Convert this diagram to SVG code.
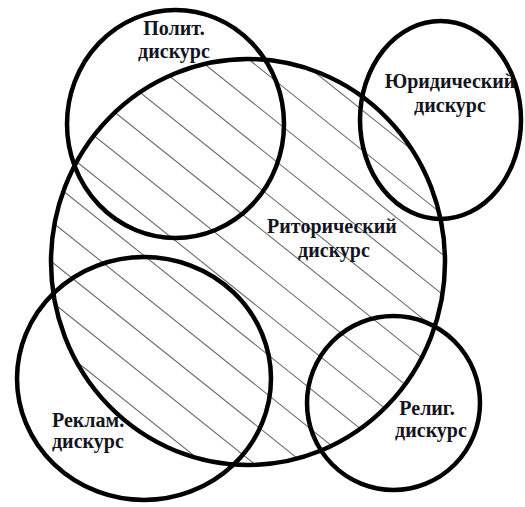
<svg xmlns="http://www.w3.org/2000/svg" width="525" height="507" viewBox="0 0 525 507">
  <style>
    .ring { fill: none; stroke: #000; stroke-width: 4.5; }
    .hatch line { stroke: #6a6a6a; stroke-width: 1.1; }
    .lbl { font-family: "Liberation Serif", "Times New Roman", serif; font-weight: bold; font-size: 20px; fill: #14141e; }
    .c { text-anchor: middle; }
  </style>
  <defs>
    <clipPath id="bigClip">
      <ellipse cx="248" cy="262" rx="197" ry="203"/>
    </clipPath>
  </defs>
  <rect width="525" height="507" fill="#fff"/>
  <g class="hatch" clip-path="url(#bigClip)">
    <line x1="-325.5" y1="40" x2="237" y2="490"/>
    <line x1="-275.5" y1="40" x2="287" y2="490"/>
    <line x1="-225.5" y1="40" x2="337" y2="490"/>
    <line x1="-175.5" y1="40" x2="387" y2="490"/>
    <line x1="-125.5" y1="40" x2="437" y2="490"/>
    <line x1="-75.5" y1="40" x2="487" y2="490"/>
    <line x1="-25.5" y1="40" x2="537" y2="490"/>
    <line x1="24.5" y1="40" x2="587" y2="490"/>
    <line x1="74.5" y1="40" x2="637" y2="490"/>
    <line x1="124.5" y1="40" x2="687" y2="490"/>
    <line x1="174.5" y1="40" x2="737" y2="490"/>
    <line x1="224.5" y1="40" x2="787" y2="490"/>
    <line x1="274.5" y1="40" x2="837" y2="490"/>
  </g>
  <g id="connectors"/>
  <g id="ritor">
    <ellipse class="ring" cx="248" cy="262" rx="197" ry="203"/>
    <text class="lbl c" x="332" y="233">Риторический</text>
    <text class="lbl c" x="334" y="257">дискурс</text>
  </g>
  <g id="polit">
    <ellipse class="ring" cx="175.5" cy="124" rx="108.5" ry="114"/>
    <text class="lbl c" x="174" y="35">Полит.</text>
    <text class="lbl c" x="174" y="58">дискурс</text>
  </g>
  <g id="yurid">
    <ellipse class="ring" cx="440.5" cy="120" rx="80.5" ry="99"/>
    <text class="lbl c" x="450" y="88">Юридический</text>
    <text class="lbl c" x="450" y="112">дискурс</text>
  </g>
  <g id="reklam">
    <ellipse class="ring" cx="144" cy="378.5" rx="127" ry="121.5"/>
    <text class="lbl" x="52" y="427">Реклам.</text>
    <text class="lbl" x="52" y="448">дискурс</text>
  </g>
  <g id="relig">
    <ellipse class="ring" cx="393.5" cy="403" rx="86.5" ry="87"/>
    <text class="lbl c" x="427" y="415">Религ.</text>
    <text class="lbl c" x="431" y="437">дискурс</text>
  </g>
</svg>
